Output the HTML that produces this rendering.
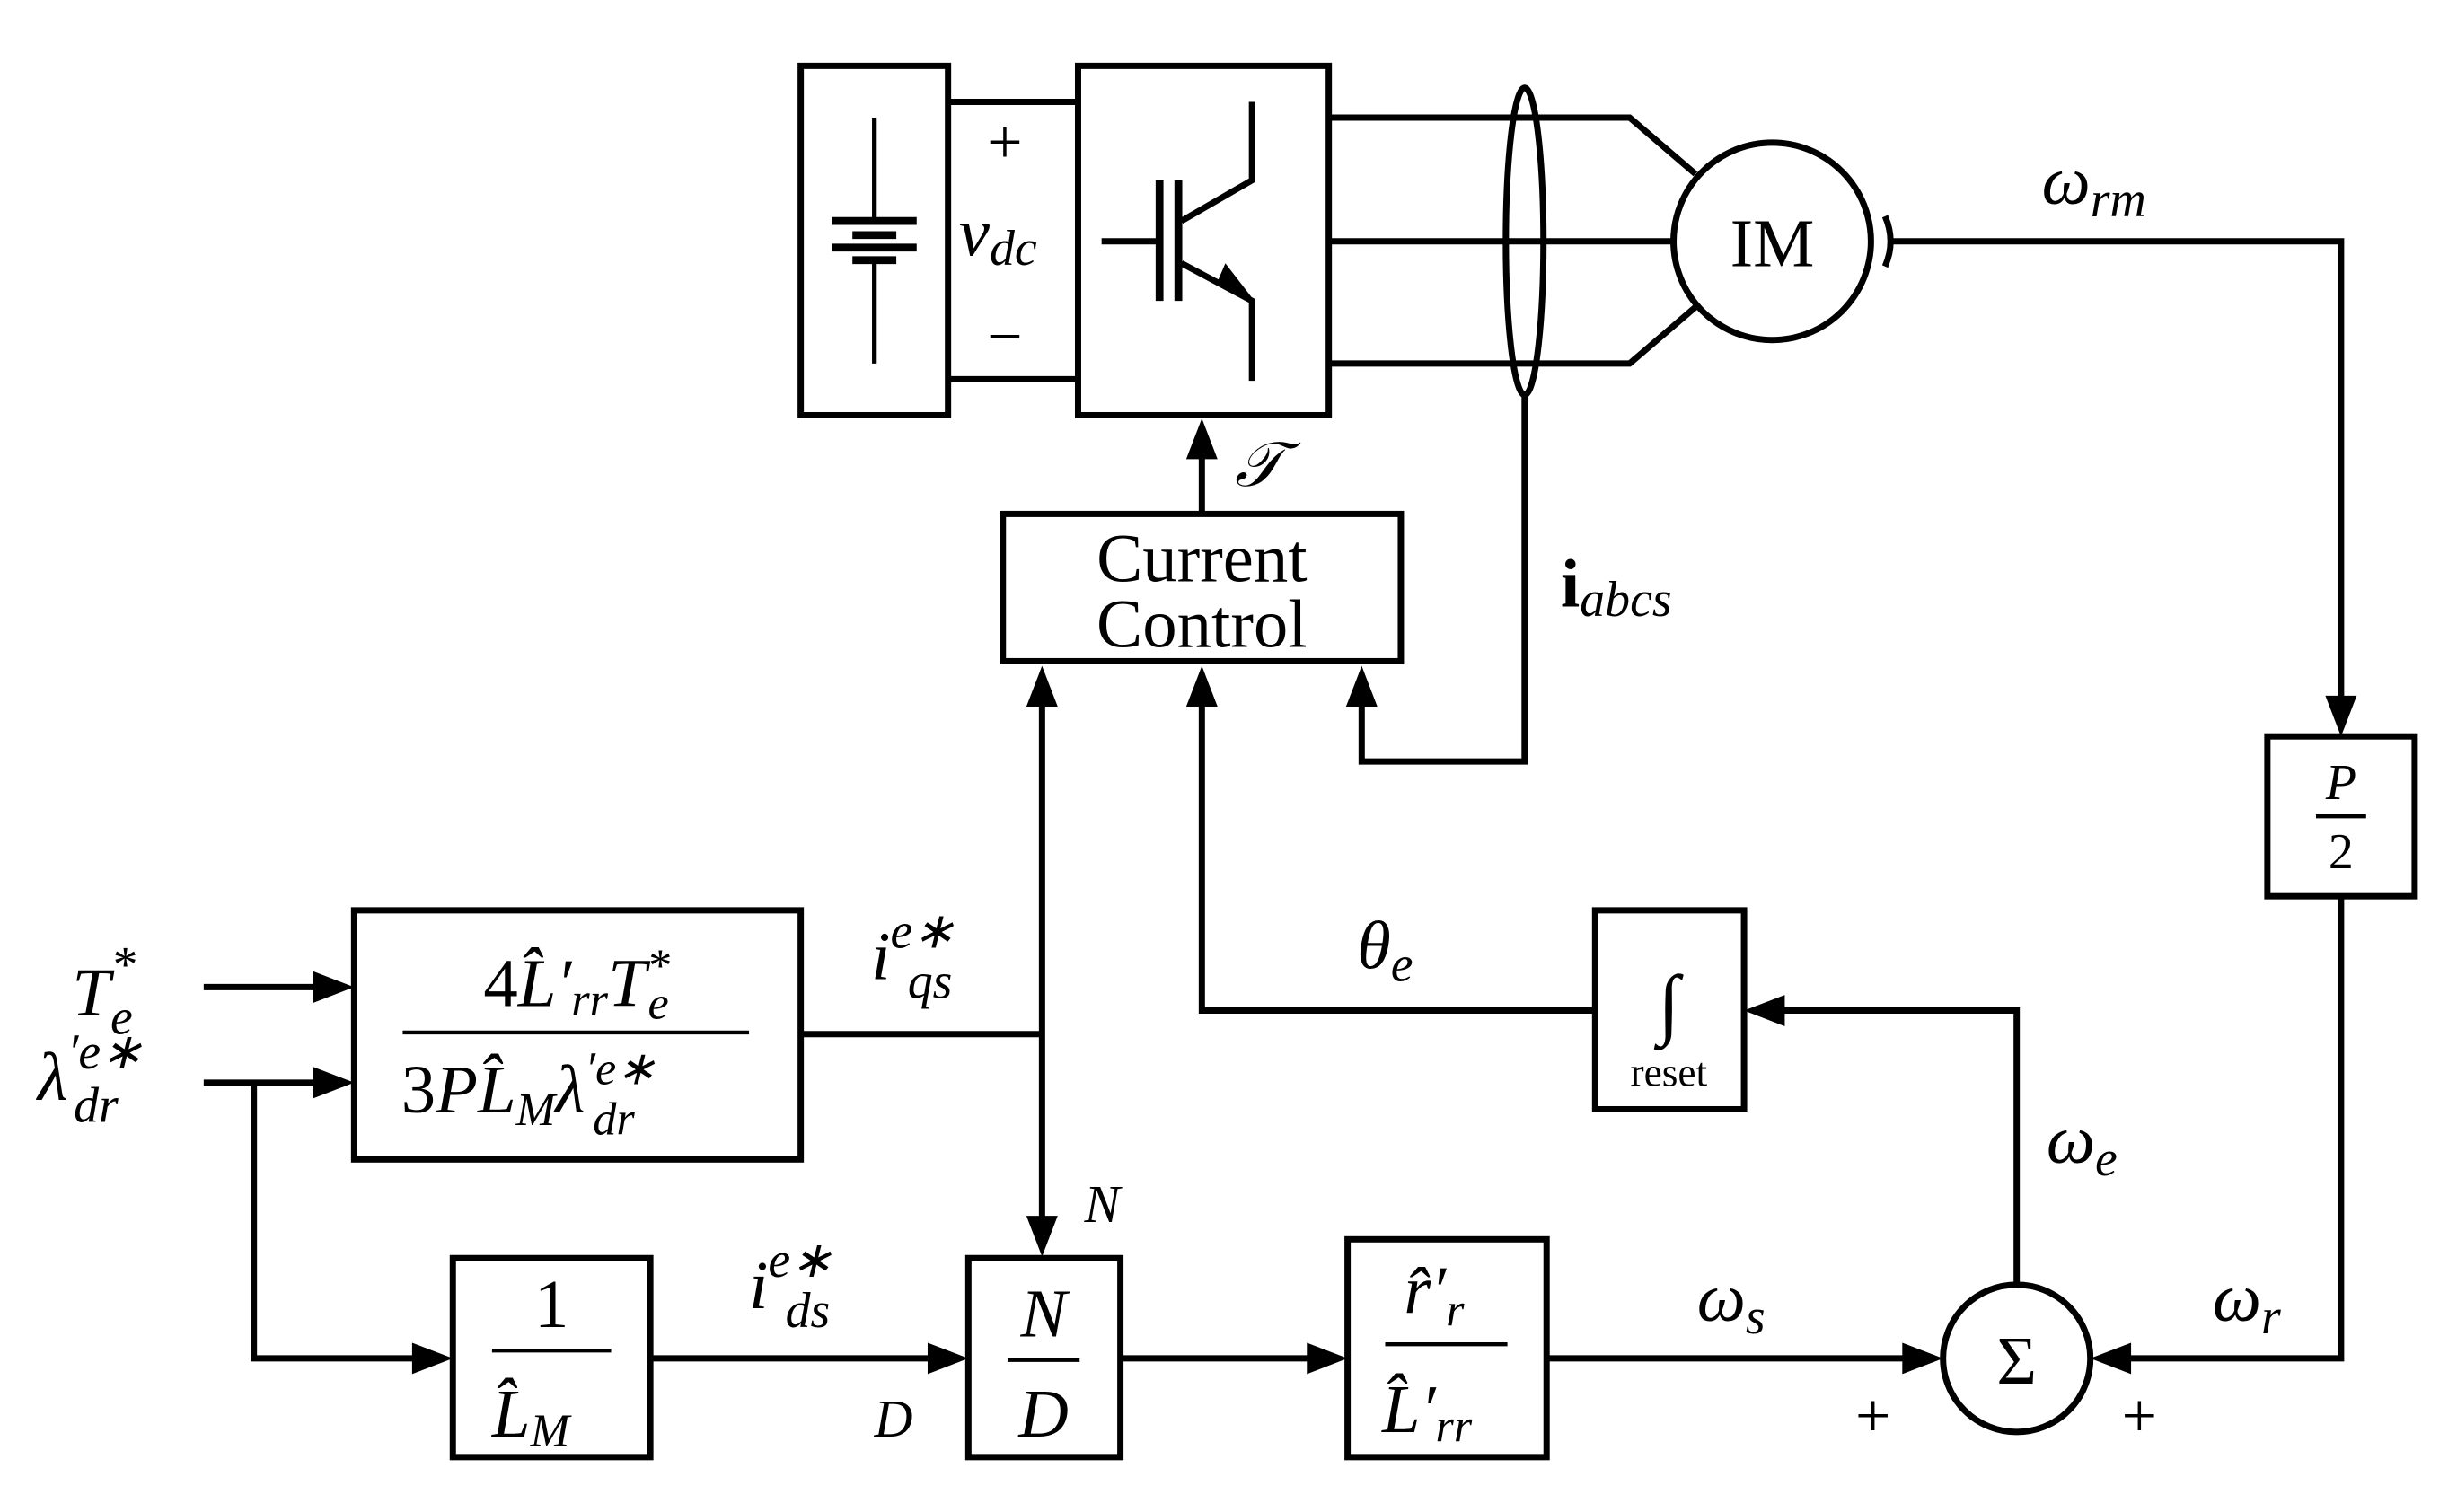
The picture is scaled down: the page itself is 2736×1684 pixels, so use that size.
<!DOCTYPE html>
<html><head><meta charset="utf-8"><style>
html,body{margin:0;padding:0;background:#fff}
svg{display:block}
text{font-family:"Liberation Serif",serif;fill:#000}
.i{font-style:italic}
</style></head><body>
<svg width="2736" height="1684" viewBox="0 0 1568 965" xmlns="http://www.w3.org/2000/svg">
<g fill="none" stroke="#000" stroke-width="4" stroke-linejoin="miter">
<rect x="511" y="42" width="94" height="223"/>
<rect x="688" y="42" width="160" height="223"/>
<line x1="605" y1="65" x2="688" y2="65"/>
<line x1="605" y1="242" x2="688" y2="242"/>
<line x1="558" y1="75" x2="558" y2="141" stroke-width="3"/>
<line x1="558" y1="166" x2="558" y2="232" stroke-width="3"/>
<line x1="531" y1="141" x2="585" y2="141" stroke-width="5"/>
<line x1="544" y1="150" x2="572" y2="150" stroke-width="5"/>
<line x1="531" y1="158" x2="585" y2="158" stroke-width="5"/>
<line x1="544" y1="166" x2="572" y2="166" stroke-width="5"/>
<line x1="703" y1="154" x2="738" y2="154"/>
<line x1="740" y1="115" x2="740" y2="192" stroke-width="5"/>
<line x1="752" y1="115" x2="752" y2="192" stroke-width="5"/>
<polyline points="754,141 799,115 799,65"/>
<polyline points="754,168 799,192 799,243"/>
<polyline points="848,75 1040,75 1082,111"/>
<line x1="848" y1="154" x2="1068" y2="154"/>
<polyline points="848,232 1040,232 1082,196"/>
<ellipse cx="973" cy="154" rx="12" ry="98"/>
<circle cx="1131" cy="154" r="63"/>
<path d="M1203,138 Q1210,154 1203,170"/>
<polyline points="1208,154 1494,154 1494,448"/>
<polyline points="973,252 973,486 869,486 869,448"/>
<rect x="640" y="328" width="254" height="94"/>
<line x1="767" y1="328" x2="767" y2="290"/>
<line x1="665" y1="448" x2="665" y2="780"/>
<polyline points="512,660 665,660"/>
<polyline points="767,448 767,645 1018,645"/>
<rect x="226" y="581" width="285" height="159"/>
<line x1="257" y1="659" x2="478" y2="659" stroke-width="2.5"/>
<line x1="130" y1="630" x2="203" y2="630"/>
<line x1="130" y1="691" x2="203" y2="691"/>
<polyline points="162,691 162,867 266,867"/>
<rect x="289" y="803" width="126" height="127"/>
<line x1="314" y1="862" x2="390" y2="862" stroke-width="2.5"/>
<line x1="415" y1="867" x2="596" y2="867"/>
<rect x="618" y="803" width="97" height="127"/>
<line x1="643" y1="868" x2="689" y2="868" stroke-width="2.5"/>
<line x1="715" y1="867" x2="838" y2="867"/>
<rect x="860" y="791" width="127" height="139"/>
<line x1="884" y1="858" x2="962" y2="858" stroke-width="2.5"/>
<line x1="987" y1="867" x2="1218" y2="867"/>
<circle cx="1287" cy="867" r="47"/>
<polyline points="1494,572 1494,867 1356,867"/>
<polyline points="1287,820 1287,645 1135,645"/>
<rect x="1018" y="581" width="95" height="127"/>
<rect x="1447" y="470" width="94" height="102"/>
<line x1="1478" y1="521" x2="1510" y2="521" stroke-width="2.5"/>
</g>
<g fill="#000">
<polygon points="799,190 782,168 776,182"/>
<polygon points="767,267 757,293 777,293"/>
<polygon points="665,425 655,451 675,451"/>
<polygon points="767,425 757,451 777,451"/>
<polygon points="869,425 859,451 879,451"/>
<polygon points="665,802 655,776 675,776"/>
<polygon points="1494,470 1484,444 1504,444"/>
<polygon points="226,630 200,620 200,640"/>
<polygon points="226,691 200,681 200,701"/>
<polygon points="289,867 263,857 263,877"/>
<polygon points="618,867 592,857 592,877"/>
<polygon points="860,867 834,857 834,877"/>
<polygon points="1240,867 1214,857 1214,877"/>
<polygon points="1113,645 1139,635 1139,655"/>
<polygon points="1334,867 1360,857 1360,877"/>
</g>
<g font-size="44">
<text x="630" y="104" font-size="40">+</text>
<text x="630" y="228" font-size="40">−</text>
<text x="612" y="163" class="i">v<tspan font-size="32" dy="6">dc</tspan></text>
<text x="1131" y="170" text-anchor="middle" font-size="44">IM</text>
<text x="1303" y="130" class="i">ω<tspan font-size="32" dy="8">rm</tspan></text>
<text x="788" y="310" class="i" font-family="Liberation Sans" font-size="40">𝒯</text>
<text x="767" y="371" text-anchor="middle" font-size="44">Current</text>
<text x="767" y="413" text-anchor="middle" font-size="44">Control</text>
<text x="996" y="387" font-weight="bold">i<tspan font-size="32" dy="6" font-style="italic" font-weight="normal">abcs</tspan></text>
<text x="46" y="648" class="i">T<tspan font-size="32" dy="-22">*</tspan><tspan font-size="32" dx="-16" dy="34">e</tspan></text>
<text x="24" y="702" class="i">λ<tspan font-size="32" dy="-20">′e∗</tspan><tspan font-size="32" dx="-44" dy="34">dr</tspan></text>
<text x="368" y="642" text-anchor="middle" class="i"><tspan font-style="normal">4</tspan>L̂′<tspan font-size="30" dy="6">rr</tspan><tspan dy="-6">T</tspan><tspan font-size="30" dy="-16">*</tspan><tspan font-size="30" dx="-14" dy="24">e</tspan></text>
<text x="256" y="710" class="i"><tspan font-style="normal">3</tspan>PL̂<tspan font-size="30" dy="8">M</tspan><tspan dy="-8">λ</tspan><tspan font-size="30" dy="-18">′e∗</tspan><tspan font-size="30" dx="-40" dy="32">dr</tspan></text>
<text x="556" y="625" class="i">i<tspan font-size="32" dy="-20">e∗</tspan><tspan font-size="32" dx="-30" dy="32">qs</tspan></text>
<text x="478" y="835" class="i">i<tspan font-size="32" dy="-20">e∗</tspan><tspan font-size="32" dx="-30" dy="32">ds</tspan></text>
<text x="352" y="847" text-anchor="middle">1</text>
<text x="314" y="917" class="i">L̂<tspan font-size="30" dy="6">M</tspan></text>
<text x="666" y="853" text-anchor="middle" class="i">N</text>
<text x="666" y="917" text-anchor="middle" class="i">D</text>
<text x="692" y="780" class="i" font-size="34">N</text>
<text x="558" y="917" class="i" font-size="34">D</text>
<text x="896" y="838" class="i">r̂′<tspan font-size="30" dy="8">r</tspan></text>
<text x="882" y="914" class="i">L̂′<tspan font-size="30" dy="6">rr</tspan></text>
<text x="1083" y="843" class="i">ω<tspan font-size="32" dy="8">s</tspan></text>
<text x="1287" y="883" text-anchor="middle" font-size="44">Σ</text>
<text x="1184" y="917" font-size="40">+</text>
<text x="1354" y="917" font-size="40">+</text>
<text x="1412" y="843" class="i">ω<tspan font-size="32" dy="8">r</tspan></text>
<text x="1306" y="742" class="i">ω<tspan font-size="32" dy="8">e</tspan></text>
<text x="866" y="618" class="i">θ<tspan font-size="32" dy="8">e</tspan></text>
<text x="1065" y="657" text-anchor="middle" font-size="50" class="i">∫</text>
<text x="1065" y="693" text-anchor="middle" font-size="26">reset</text>
<text x="1494" y="510" text-anchor="middle" class="i" font-size="32">P</text>
<text x="1494" y="554" text-anchor="middle" font-size="32">2</text>
</g>
</svg>
</body></html>
